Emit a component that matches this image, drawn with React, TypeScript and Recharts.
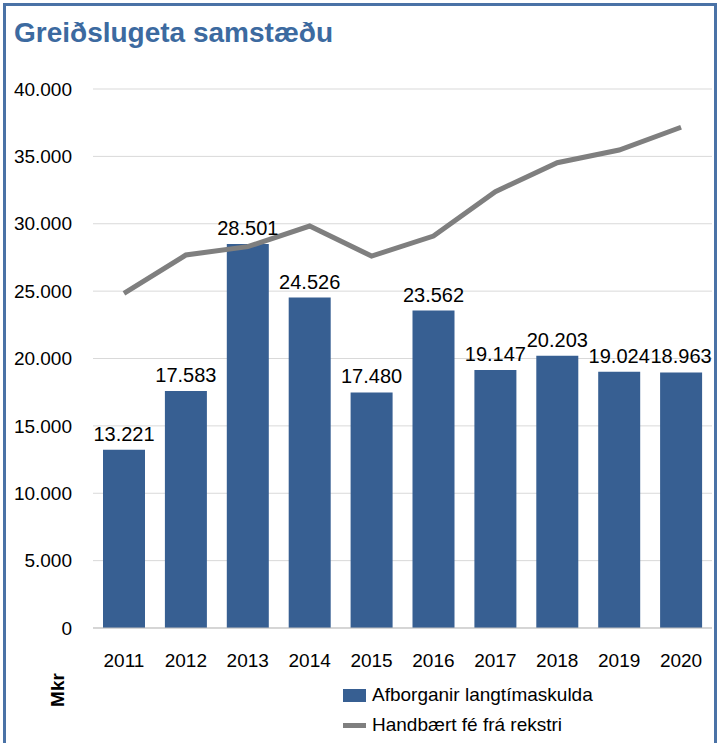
import React from "react";
import { ComposedChart, Bar, Line, XAxis, YAxis, CartesianGrid, LabelList } from "recharts";

const years = ["2011", "2012", "2013", "2014", "2015", "2016", "2017", "2018", "2019", "2020"];
const afborganir = [13221, 17583, 28501, 24526, 17480, 23562, 19147, 20203, 19024, 18963];
const handbaert = [24840, 27680, 28300, 29830, 27600, 29090, 32380, 34530, 35470, 37160];
const yTicks = [0, 5000, 10000, 15000, 20000, 25000, 30000, 35000, 40000];

const data = years.map((y, i) => ({ year: y, afb: afborganir[i], hand: handbaert[i] }));

const FONT = "'Liberation Sans', Arial, sans-serif";
const BAR = "#375F92";
const LINE = "#7F7F7F";

const fmt = (v: number) => {
  if (v === 0) return "0";
  const s = Math.round(v).toString();
  return s.replace(/\B(?=(\d{3})+(?!\d))/g, ".");
};

export default function App() {
  return (
    <div style={{ position: "absolute", left: 0, top: 0, width: 718, height: 743, background: "#fff", overflow: "hidden" }}>
      <div
        style={{
          position: "absolute",
          left: 3,
          top: 3,
          width: 708,
          height: 760,
          border: "3px solid #4A72A6",
        }}
      />
      <div
        style={{
          position: "absolute",
          left: 14,
          top: 17,
          fontFamily: FONT,
          fontWeight: "bold",
          fontSize: 28,
          color: "#3C6AA0",
          whiteSpace: "nowrap",
        }}
      >
        Greiðslugeta samstæðu
      </div>
      <div
        style={{
          position: "absolute",
          left: 58,
          top: 690,
          transform: "translate(-50%, -50%) rotate(-90deg)",
          fontFamily: FONT,
          fontWeight: "bold",
          fontSize: 19,
          color: "#000",
        }}
      >
        Mkr
      </div>
      <div style={{ position: "absolute", left: 343, top: 680, fontFamily: FONT, fontSize: 19, color: "#000" }}>
        <div style={{ display: "flex", alignItems: "center", height: 30 }}>
          <span style={{ display: "inline-block", width: 23, height: 13, background: BAR, marginRight: 6 }} />
          <span>Afborganir langtímaskulda</span>
        </div>
        <div style={{ display: "flex", alignItems: "center", height: 30 }}>
          <span style={{ display: "inline-block", width: 23, height: 5, background: LINE, marginRight: 6 }} />
          <span>Handbært fé frá rekstri</span>
        </div>
      </div>
      <div style={{ position: "absolute", left: 0, top: 0 }}>
        <ComposedChart
          width={718}
          height={743}
          data={data}
          margin={{ top: 89, right: 6, bottom: 85, left: 0 }}
          barCategoryGap={10}
        >
          <CartesianGrid vertical={false} stroke="#D9D9D9" strokeWidth={1} />
          <XAxis
            dataKey="year"
            height={30}
            tickLine={false}
            axisLine={{ stroke: "#BFBFBF", strokeWidth: 1 }}
            tick={{ fontFamily: FONT, fontSize: 19, fill: "#000" }}
            tickMargin={20}
            interval={0}
          />
          <YAxis
            width={93}
            domain={[0, 40000]}
            ticks={yTicks}
            tickFormatter={fmt}
            tickLine={false}
            axisLine={false}
            tickSize={0}
            tickMargin={21}
            tick={{ fontFamily: FONT, fontSize: 19, fill: "#000" }}
          />
          <Bar dataKey="afb" fill={BAR} isAnimationActive={false} barSize={42}>
            <LabelList
              dataKey="afb"
              position="top"
              offset={9}
              formatter={(v: number) => fmt(v)}
              style={{ fontFamily: FONT, fontSize: 20, fill: "#000" }}
            />
          </Bar>
          <Line
            dataKey="hand"
            stroke={LINE}
            strokeWidth={5}
            dot={false}
            type="linear"
            isAnimationActive={false}
          />
        </ComposedChart>
      </div>
    </div>
  );
}
